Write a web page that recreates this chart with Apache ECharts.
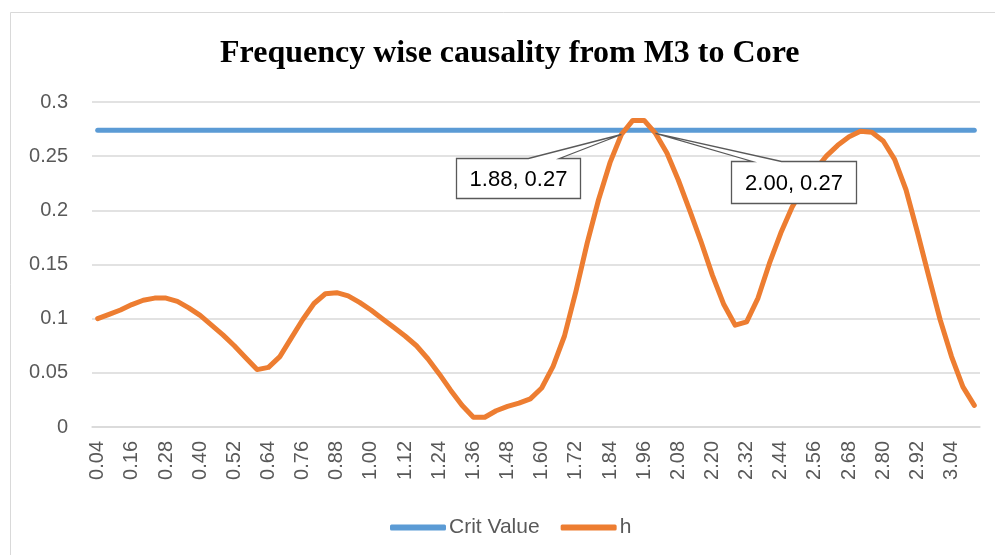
<!DOCTYPE html>
<html>
<head>
<meta charset="utf-8">
<script src="https://cdn.jsdelivr.net/npm/echarts@6/dist/echarts.min.js"></script>
<style>
  html, body { margin: 0; padding: 0; background: #fff; }
  #chart { width: 995px; height: 555px; }
</style>
</head>
<body>
<div id="chart"></div>
<script>
const categories = [
  '0.04', '0.08', '0.12', '0.16', '0.20', '0.24', '0.28', '0.32', '0.36', '0.40',
  '0.44', '0.48', '0.52', '0.56', '0.60', '0.64', '0.68', '0.72', '0.76', '0.80',
  '0.84', '0.88', '0.92', '0.96', '1.00', '1.04', '1.08', '1.12', '1.16', '1.20',
  '1.24', '1.28', '1.32', '1.36', '1.40', '1.44', '1.48', '1.52', '1.56', '1.60',
  '1.64', '1.68', '1.72', '1.76', '1.80', '1.84', '1.88', '1.92', '1.96', '2.00',
  '2.04', '2.08', '2.12', '2.16', '2.20', '2.24', '2.28', '2.32', '2.36', '2.40',
  '2.44', '2.48', '2.52', '2.56', '2.60', '2.64', '2.68', '2.72', '2.76', '2.80',
  '2.84', '2.88', '2.92', '2.96', '3.00', '3.04', '3.08', '3.12'
]

const critValue = [
  0.274, 0.274, 0.274, 0.274, 0.274, 0.274, 0.274, 0.274, 0.274, 0.274,
  0.274, 0.274, 0.274, 0.274, 0.274, 0.274, 0.274, 0.274, 0.274, 0.274,
  0.274, 0.274, 0.274, 0.274, 0.274, 0.274, 0.274, 0.274, 0.274, 0.274,
  0.274, 0.274, 0.274, 0.274, 0.274, 0.274, 0.274, 0.274, 0.274, 0.274,
  0.274, 0.274, 0.274, 0.274, 0.274, 0.274, 0.274, 0.274, 0.274, 0.274,
  0.274, 0.274, 0.274, 0.274, 0.274, 0.274, 0.274, 0.274, 0.274, 0.274,
  0.274, 0.274, 0.274, 0.274, 0.274, 0.274, 0.274, 0.274, 0.274, 0.274,
  0.274, 0.274, 0.274, 0.274, 0.274, 0.274, 0.274, 0.274
]

const h = [
  0.100, 0.104, 0.108, 0.113, 0.117, 0.119, 0.119, 0.116, 0.110, 0.103,
  0.094, 0.085, 0.075, 0.064, 0.053, 0.055, 0.065, 0.082, 0.099, 0.114,
  0.123, 0.124, 0.121, 0.115, 0.108, 0.100, 0.092, 0.084, 0.075, 0.063,
  0.049, 0.034, 0.020, 0.009, 0.009, 0.015, 0.019, 0.022, 0.026, 0.036,
  0.056, 0.084, 0.125, 0.170, 0.210, 0.244, 0.270, 0.283, 0.283, 0.271,
  0.253, 0.228, 0.200, 0.171, 0.140, 0.113, 0.094, 0.097, 0.119, 0.151,
  0.179, 0.203, 0.221, 0.237, 0.250, 0.260, 0.268, 0.273, 0.272, 0.264,
  0.247, 0.219, 0.180, 0.139, 0.099, 0.065, 0.037, 0.020
]

const yTicks = [0, 0.05, 0.1, 0.15, 0.2, 0.25, 0.3]

// points that carry a callout label (category index)
const calloutIdx = [46, 49]

// callout box placement relative to the point, in px
const calloutBoxes = [
  { left: -165, top: 24, w: 124, h: 40, w1: -93, w2: -62 },
  { left: 75, top: 28, w: 125, h: 42, w1: 97, w2: 126 }
]

const sans = '"Liberation Sans", Arial, sans-serif'

const chart = echarts.init(document.getElementById('chart'))

const option = {
  animation: false,
  backgroundColor: '#fff',
  title: {
    text: 'Frequency wise causality from M3 to Core',
    left: 215,
    top: 33,
    textStyle: {
      fontFamily: '"Liberation Serif", "Times New Roman", serif',
      fontWeight: 'bold',
      fontSize: 32,
      color: '#000'
    }
  },
  graphic: [{
    type: 'rect',
    shape: { x: 10.5, y: 12.5, width: 1000, height: 560 },
    style: { fill: 'none', stroke: '#d9d9d9', lineWidth: 1 },
    silent: true
  }],
  legend: {
    data: ['Crit Value', 'h'],
    left: 385,
    top: 512,
    icon: 'roundRect',
    itemWidth: 56,
    itemHeight: 6,
    itemGap: 21,
    textStyle: { fontFamily: sans, fontSize: 21, color: '#595959', padding: [0, 0, 0, -2] }
  },
  grid: { left: 92, right: 15, top: 102, bottom: 128, containLabel: false },
  xAxis: {
    type: 'category',
    data: categories,
    boundaryGap: true,
    axisLine: { lineStyle: { color: '#d9d9d9', width: 1.5 } },
    axisTick: { show: false },
    axisLabel: {
      interval: 2,
      rotate: 90,
      margin: 14,
      fontFamily: sans,
      fontSize: 20,
      color: '#595959'
    }
  },
  yAxis: {
    type: 'value',
    min: yTicks[0],
    max: yTicks[yTicks.length - 1],
    interval: 0.05,
    axisLine: { show: false },
    axisTick: { show: false },
    splitLine: { lineStyle: { color: '#d9d9d9', width: 1.5 } },
    axisLabel: {
      margin: 24,
      fontFamily: sans,
      fontSize: 20,
      color: '#595959',
      formatter: v => String(+v.toFixed(2))
    }
  },
  series: [
    {
      name: 'Crit Value',
      type: 'line',
      data: critValue,
      symbol: 'none',
      color: '#5b9bd5',
      lineStyle: { width: 5, cap: 'round', join: 'round' },
      emphasis: { disabled: true },
      z: 2
    },
    {
      name: 'h',
      type: 'line',
      data: h,
      symbol: 'none',
      color: '#ed7d31',
      lineStyle: { width: 5, cap: 'round', join: 'round' },
      emphasis: { disabled: true },
      z: 3
    },
    {
      name: 'callouts',
      type: 'custom',
      clip: false,
      z: 10,
      silent: true,
      data: calloutIdx.map(i => [i, h[i]]),
      renderItem: (params, api) => {
        const i = api.value(0)
        const p = api.coord([i, api.value(1)])
        const b = calloutBoxes[params.dataIndex]
        const L = Math.round(p[0] + b.left) + 0.5
        const T = Math.round(p[1] + b.top) + 0.5
        const R = L + b.w
        const B = T + b.h
        return {
          type: 'group',
          children: [
            {
              type: 'polygon',
              shape: {
                points: [[L, T], [p[0] + b.w1, T], p, [p[0] + b.w2, T], [R, T], [R, B], [L, B]]
              },
              style: { fill: '#fff', stroke: '#595959', lineWidth: 1.3 }
            },
            {
              type: 'text',
              style: {
                text: categories[i] + ', ' + h[i].toFixed(2),
                x: (L + R) / 2,
                y: (T + B) / 2 + 1,
                align: 'center',
                verticalAlign: 'middle',
                font: '22px ' + sans,
                fill: '#000'
              }
            }
          ]
        }
      }
    }
  ]
}

chart.setOption(option)
</script>
</body>
</html>
